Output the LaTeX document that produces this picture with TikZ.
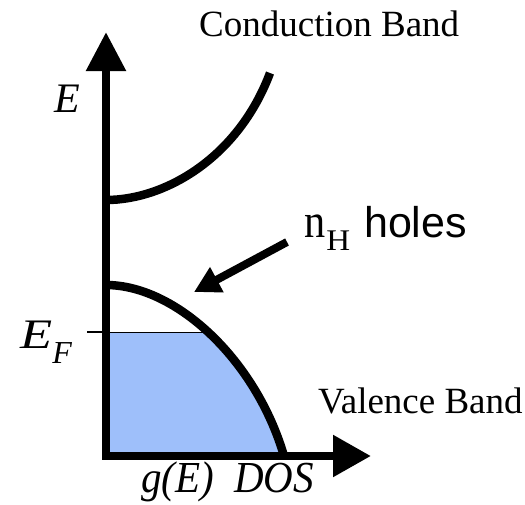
\documentclass[tikz,border=0pt]{standalone}
\usepackage{fontspec}
\setmainfont{Liberation Serif}
\newfontfamily\arialfont{Liberation Sans}
\usetikzlibrary{arrows.meta}
\definecolor{fillblue}{RGB}{158,191,250}
\begin{document}
\begin{tikzpicture}[x=1pt,y=-1pt,
  axisline/.style={line width=8.5pt, line join=miter},
  bandcurve/.style={line width=8.5pt},
  lbl/.style={inner sep=0pt, anchor=base west},
]
\useasboundingbox (0,0) rectangle (525,504);
\coordinate (ytip) at (106,32);
\coordinate (origin) at (106,456);
\coordinate (xtip) at (371,456);
\coordinate (vtop) at (106,285);
\coordinate (vbot) at (284,456);
\coordinate (ctop) at (106,200);
\coordinate (cend) at (270,73);
\coordinate (tick) at (87,332);
\coordinate (efend) at (212,332);
\coordinate (hfrom) at (287,242);
\coordinate (hto) at (194,292);
% filled states below E_F
\begin{scope}
\clip (0,332) rectangle (525,504);
\fill[fillblue] (vtop) .. controls (176,285) and (256,360) .. (vbot) -- (origin) -- cycle;
\end{scope}
% Fermi level
\draw[line width=0.8pt] (origin |- tick) -- (efend);
\draw[line width=1.6pt] (tick) -- (origin |- tick);
% axes
\draw[axisline, {Triangle[length=39pt,width=38pt]}-{Triangle[length=38pt,width=40pt]}] (ytip) -- (origin) -- (xtip);
% bands
\draw[bandcurve] (ctop) .. controls (165,200) and (238,158) .. (cend);
\draw[bandcurve] (vtop) .. controls (176,285) and (256,360) .. (vbot);
% holes arrow
\draw[line width=8pt, -{Triangle[length=26pt,width=27pt]}] (hfrom) -- (hto);
% labels
\node[lbl] (cb) at (199,36) {\fontsize{37}{40}\selectfont Conduction Band};
\node[lbl] (vb) at (318,413) {\fontsize{37}{40}\selectfont Valence Band};
\node[lbl] (elab) at (54,112) {\fontsize{42}{40}\selectfont\itshape E};
\node[lbl] (eflab) at (20,348) {\scalebox{1.25}[1]{\fontsize{42}{40}\selectfont\itshape E}\hspace{0pt}\raisebox{-15pt}{\fontsize{32}{30}\selectfont\itshape F}};
\node[lbl] (dos) at (141,492) {\scalebox{1}[1.08]{\fontsize{41}{40}\selectfont\itshape g(E)\hspace{20pt}DOS}};
\node[lbl] (holes) at (304,237) {\scalebox{0.88}[1]{\fontsize{48}{40}\selectfont n}\hspace{1pt}\raisebox{-13pt}{\scalebox{1.1}[1]{\fontsize{30}{24}\selectfont H}}\hspace{14pt}{\arialfont\fontsize{43}{43}\selectfont holes}};
\end{tikzpicture}
\end{document}
